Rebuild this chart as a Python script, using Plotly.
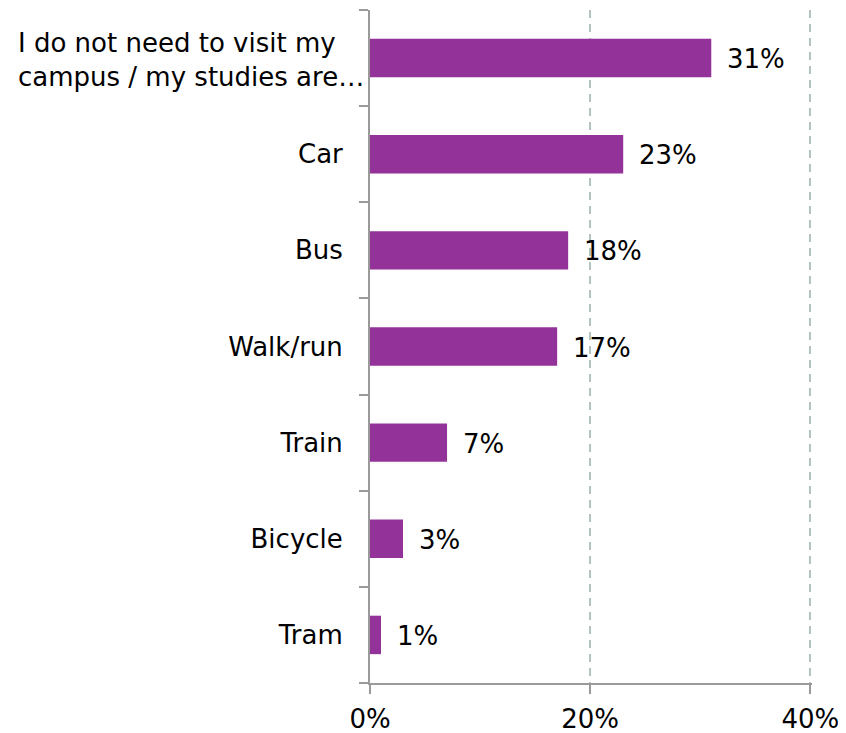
import plotly.graph_objects as go

categories = ["I do not need to visit my campus / my studies are…", "Car", "Bus", "Walk/run", "Train", "Bicycle", "Tram"]
values = [31, 23, 18, 17, 7, 3, 1]
tick_labels = ["", "Car", "Bus", "Walk/run", "Train", "Bicycle", "Tram"]
x_ticks = [0, 20, 40]
x_tick_labels = ["0%", "20%", "40%"]

FONT = "DejaVu Sans"
BAR = "#93339A"
AXIS = "#9a9a9a"
FS = 26

fig = go.Figure()
fig.add_trace(go.Bar(
    x=values, y=categories, orientation="h",
    marker=dict(color=BAR, line=dict(width=0)),
    showlegend=False, hoverinfo="skip",
))

annotations = []
for c, v in zip(categories, values):
    annotations.append(dict(
        x=v, y=c, xref="x", yref="y", text=f"{v}%", showarrow=False,
        xanchor="left", yanchor="middle", xshift=14, yshift=-1,
        font=dict(family=FONT, size=FS, color="#000000"),
    ))
annotations.append(dict(
    x=0, y=categories[0], xref="paper", yref="y",
    text="I do not need to visit my<br>campus / my studies are…",
    showarrow=False, xanchor="right", yanchor="middle", align="left",
    xshift=-4, yshift=-2,
    font=dict(family=FONT, size=FS, color="#000000"),
))

fig.update_layout(
    width=838, height=725,
    margin=dict(l=362, r=34, t=2, b=50),
    paper_bgcolor="white", plot_bgcolor="white",
    bargap=0.6,
    font=dict(family=FONT, size=FS, color="#000000"),
    annotations=annotations,
)
fig.update_xaxes(
    range=[0, 40.15], tickvals=x_ticks, ticktext=x_tick_labels,
    showgrid=True, gridcolor="#b3c3bd", gridwidth=2, griddash="8px,6px",
    zeroline=False, showline=True, linecolor=AXIS, linewidth=2,
    ticks="outside", ticklen=9, tickwidth=2, tickcolor=AXIS,
    ticklabelstandoff=3, automargin=False,
    tickfont=dict(family=FONT, size=FS, color="#000000"),
    fixedrange=True,
)
fig.update_yaxes(
    categoryorder="array", categoryarray=categories, autorange="reversed",
    tickmode="array", tickvals=categories, ticktext=tick_labels,
    tickson="boundaries",
    showgrid=False, zeroline=False, showline=True, linecolor=AXIS, linewidth=2,
    ticks="outside", ticklen=9, tickwidth=2, tickcolor=AXIS,
    ticklabelstandoff=20, automargin=False,
    tickfont=dict(family=FONT, size=FS, color="#000000"),
    fixedrange=True,
)

fig.write_html("out.html")
